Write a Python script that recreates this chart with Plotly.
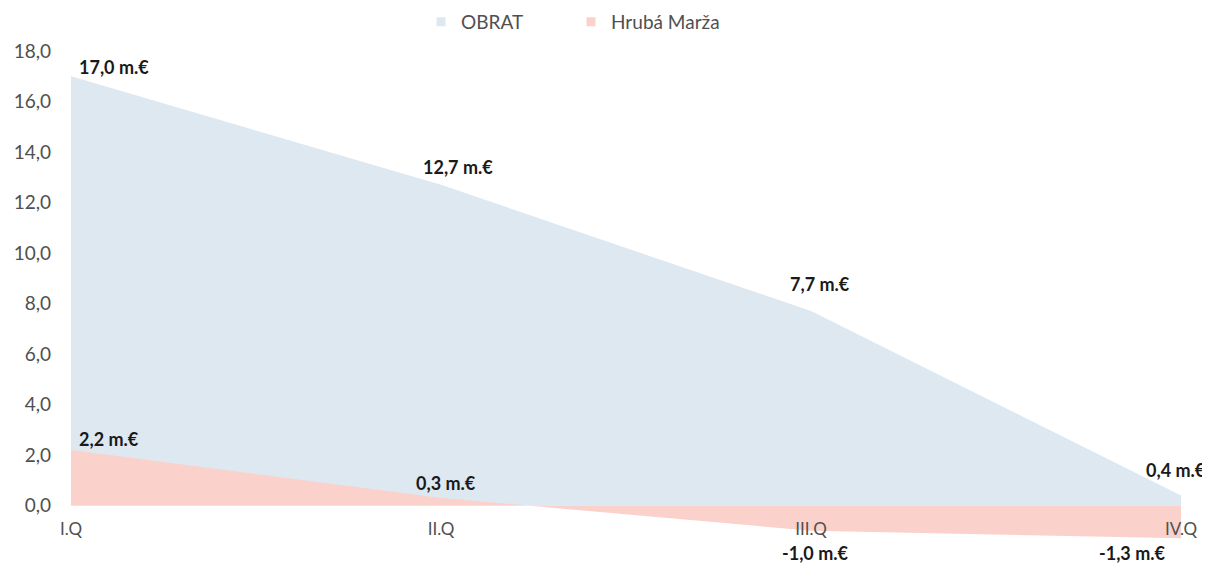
import plotly.graph_objects as go

quarters = ["I.Q", "II.Q", "III.Q", "IV.Q"]
obrat = [17.0, 12.7, 7.7, 0.4]
marza = [2.2, 0.3, -1.0, -1.3]
y_ticks = [-2, 0, 2, 4, 6, 8, 10, 12, 14, 16, 18]
y_tick_text = ["-2,0", "0,0", "2,0", "4,0", "6,0", "8,0", "10,0", "12,0",
               "14,0", "16,0", "18,0"]

BLUE = "#dde8f1"
PINK = "#fad2cb"
GRAY = "#505050"
FONT = "Lato"

fig = go.Figure()
fig.add_trace(go.Scatter(x=quarters, y=obrat, mode="lines", fill="tozeroy",
                         line=dict(width=0, color=BLUE), fillcolor=BLUE,
                         showlegend=False, hoverinfo="skip"))
fig.add_trace(go.Scatter(x=quarters, y=marza, mode="lines", fill="tozeroy",
                         line=dict(width=0, color=PINK), fillcolor=PINK,
                         showlegend=False, hoverinfo="skip"))
# legend entries (square markers)
fig.add_trace(go.Scatter(x=[None], y=[None], mode="markers", name="OBRAT",
                         marker=dict(symbol="square", size=9, color=BLUE)))
fig.add_trace(go.Scatter(x=[None], y=[None], mode="markers", name="Hrubá Marža",
                         marker=dict(symbol="square", size=9, color=PINK)))

def fmt(v):
    return f"{v:.1f}".replace(".", ",") + " m.€"

# label styles: (xanchor, yanchor, xshift, yshift)
obrat_style = [("left", "bottom", 7, -3), ("center", "bottom", 17, 6),
               ("center", "bottom", 9, 15), ("center", "bottom", -5, 13)]
marza_style = [("left", "bottom", 7, -1), ("center", "bottom", 5, 3),
               ("center", "top", 4, -10), ("center", "top", -49, -3)]

for vals, styles in ((obrat, obrat_style), (marza, marza_style)):
    for q, v, (xa, ya, xs, ys) in zip(quarters, vals, styles):
        fig.add_annotation(x=q, y=v, text=fmt(v), showarrow=False,
                           xanchor=xa, yanchor=ya, xshift=xs, yshift=ys,
                           borderpad=0,
                           font=dict(family=FONT, size=18, color="#1a1a1a",
                                     weight="bold"))

fig.update_layout(
    width=1202, height=556,
    margin=dict(l=63, r=29, t=43, b=8, autoexpand=False),
    paper_bgcolor="white", plot_bgcolor="white",
    font=dict(family=FONT, color=GRAY),
    legend=dict(orientation="h", xref="container", yref="container",
                x=0.3436, y=0.975, xanchor="left", yanchor="middle",
                font=dict(size=19, color=GRAY), entrywidth=105,
                itemwidth=30),
    xaxis=dict(type="category", range=[0, 3], showgrid=False, zeroline=False,
               showline=False, anchor="free", position=0.1,
               tickfont=dict(size=17, color=GRAY), ticklabelstandoff=11),
    yaxis=dict(range=[-2, 18], tickvals=y_ticks, ticktext=y_tick_text,
               showgrid=False, zeroline=False, showline=False,
               tickfont=dict(size=19, color=GRAY), ticklabelstandoff=19),
)

fig.write_html("out.html")
